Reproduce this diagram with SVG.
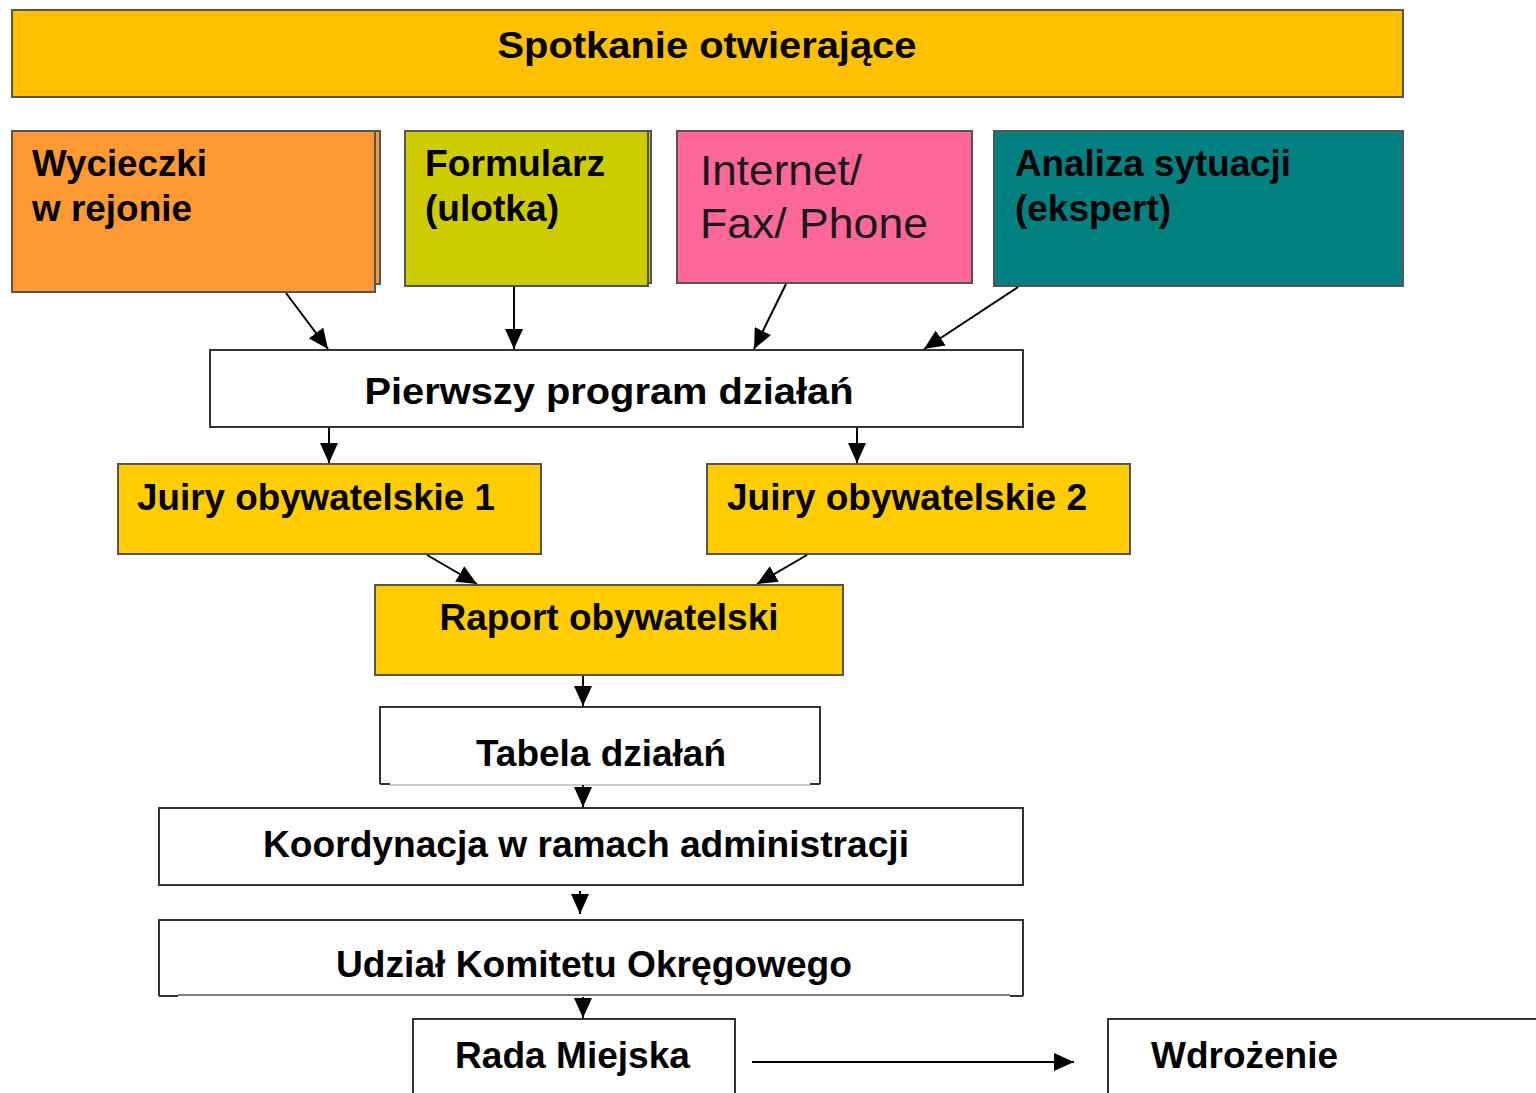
<svg xmlns="http://www.w3.org/2000/svg" width="1536" height="1093" viewBox="0 0 1536 1093">
  <defs>
    <marker id="head" viewBox="0 0 20 18" refX="20" refY="9" markerWidth="20" markerHeight="18" markerUnits="userSpaceOnUse" orient="auto">
      <path d="M0,0 L20,9 L0,18 Z" fill="#000"/>
    </marker>
    <style>
      .box { stroke: #555; stroke-width: 2; }
      .plain { fill: #fff; stroke: #333; stroke-width: 2; }
      .lbl { font-family: "Liberation Sans", Arial, sans-serif; font-weight: bold; font-size: 37px; fill: #000; }
      .thin { font-family: "Liberation Sans", Arial, sans-serif; font-weight: normal; font-size: 42px; fill: #1a1a1a; }
      .edge { stroke: #000; stroke-width: 2; fill: none; marker-end: url(#head); }
    </style>
  </defs>
  <rect width="1536" height="1093" fill="#fff"/>

  <g id="kickoff">
    <rect class="box" x="12" y="10" width="1391" height="87" fill="#FFC000"/>
    <rect x="19" y="15" width="1378" height="77" fill="none" stroke="#F2B600" stroke-width="1.5"/>
    <text class="lbl" x="707" y="58" text-anchor="middle" textLength="419" lengthAdjust="spacingAndGlyphs">Spotkanie otwierające</text>
  </g>

  <g id="wycieczki">
    <rect class="box" x="20" y="131" width="360" height="153" fill="#FF9933"/>
    <rect class="box" x="12" y="131" width="363" height="161" fill="#FF9933"/>
    <text class="lbl" x="32" y="176" textLength="175" lengthAdjust="spacingAndGlyphs">Wycieczki</text>
    <text class="lbl" x="32" y="221" textLength="160" lengthAdjust="spacingAndGlyphs">w rejonie</text>
  </g>

  <g id="formularz">
    <rect class="box" x="410" y="131" width="241" height="152" fill="#CCCC00"/>
    <rect class="box" x="405" y="131" width="243" height="155" fill="#CCCC00"/>
    <text class="lbl" x="425" y="176" textLength="180" lengthAdjust="spacingAndGlyphs">Formularz</text>
    <text class="lbl" x="425" y="221" textLength="134" lengthAdjust="spacingAndGlyphs">(ulotka)</text>
  </g>

  <g id="internet">
    <rect class="box" x="677" y="131" width="295" height="152" fill="#FF6699" stroke="#333"/>
    <text class="thin" x="700" y="185" textLength="162" lengthAdjust="spacingAndGlyphs">Internet/</text>
    <text class="thin" x="700" y="238" textLength="228" lengthAdjust="spacingAndGlyphs">Fax/ Phone</text>
  </g>

  <g id="analiza">
    <rect class="box" x="994" y="131" width="409" height="155" fill="#008080"/>
    <text class="lbl" x="1015" y="176" textLength="276" lengthAdjust="spacingAndGlyphs">Analiza sytuacji</text>
    <text class="lbl" x="1015" y="221" textLength="156" lengthAdjust="spacingAndGlyphs">(ekspert)</text>
  </g>

  <g id="pierwszy">
    <rect class="plain" x="210" y="350" width="813" height="77"/>
    <text class="lbl" x="609" y="404" text-anchor="middle" textLength="489" lengthAdjust="spacingAndGlyphs">Pierwszy program działań</text>
  </g>

  <g id="juiry1">
    <rect class="box" x="118" y="464" width="423" height="90" fill="#FFCC00"/>
    <text class="lbl" x="137" y="510" textLength="358" lengthAdjust="spacingAndGlyphs">Juiry obywatelskie 1</text>
  </g>

  <g id="juiry2">
    <rect class="box" x="707" y="464" width="423" height="90" fill="#FFCC00"/>
    <text class="lbl" x="727" y="510" textLength="360" lengthAdjust="spacingAndGlyphs">Juiry obywatelskie 2</text>
  </g>

  <g id="raport">
    <rect class="box" x="375" y="585" width="468" height="90" fill="#FFCC00"/>
    <text class="lbl" x="609" y="630" text-anchor="middle" textLength="339" lengthAdjust="spacingAndGlyphs">Raport obywatelski</text>
  </g>

  <g id="tabela">
    <path d="M380,784 V707 H820 V784" fill="#fff" stroke="#333" stroke-width="2"/>
    <path d="M380,784 H390 M810,784 H820" stroke="#333" stroke-width="2"/>
    <line x1="390" y1="785" x2="810" y2="785" stroke="#999" stroke-width="1"/>
    <text class="lbl" x="601" y="766" text-anchor="middle" textLength="250" lengthAdjust="spacingAndGlyphs">Tabela działań</text>
  </g>

  <g id="koordynacja">
    <rect class="plain" x="159" y="808" width="864" height="77"/>
    <text class="lbl" x="586" y="857" text-anchor="middle" textLength="646" lengthAdjust="spacingAndGlyphs">Koordynacja w ramach administracji</text>
  </g>

  <g id="udzial">
    <path d="M159,996 V920 H1023 V996" fill="#fff" stroke="#333" stroke-width="2"/>
    <path d="M159,996 H178 M1010,996 H1023" stroke="#333" stroke-width="2"/>
    <line x1="178" y1="995" x2="1010" y2="995" stroke="#555" stroke-width="1.5"/>
    <text class="lbl" x="594" y="977" text-anchor="middle" textLength="516" lengthAdjust="spacingAndGlyphs">Udział Komitetu Okręgowego</text>
  </g>

  <g id="rada">
    <path d="M413,1093 V1019 H735 V1093" fill="#fff" stroke="#333" stroke-width="2"/>
    <text class="lbl" x="455" y="1068" textLength="235" lengthAdjust="spacingAndGlyphs">Rada Miejska</text>
  </g>

  <g id="wdrozenie">
    <path d="M1108,1093 V1019 H1536" fill="#fff" stroke="#333" stroke-width="2"/>
    <text class="lbl" x="1151" y="1068" textLength="187" lengthAdjust="spacingAndGlyphs">Wdrożenie</text>
  </g>

  <g id="connectors">
    <line class="edge" x1="286" y1="293" x2="328" y2="349"/>
    <line class="edge" x1="514" y1="287" x2="514" y2="349"/>
    <line class="edge" x1="786" y1="284" x2="754" y2="349"/>
    <line class="edge" x1="1018" y1="287" x2="924" y2="349"/>
    <line class="edge" x1="329" y1="428" x2="329" y2="463"/>
    <line class="edge" x1="857" y1="428" x2="857" y2="463"/>
    <line class="edge" x1="427" y1="555" x2="477" y2="584"/>
    <line class="edge" x1="807" y1="555" x2="757" y2="584"/>
    <line class="edge" x1="583" y1="676" x2="583" y2="706"/>
    <line class="edge" x1="583" y1="785" x2="583" y2="807"/>
    <line class="edge" x1="580" y1="891" x2="580" y2="914"/>
    <line class="edge" x1="583" y1="997" x2="583" y2="1018"/>
    <line class="edge" x1="752" y1="1062" x2="1074" y2="1062"/>
  </g>
</svg>
